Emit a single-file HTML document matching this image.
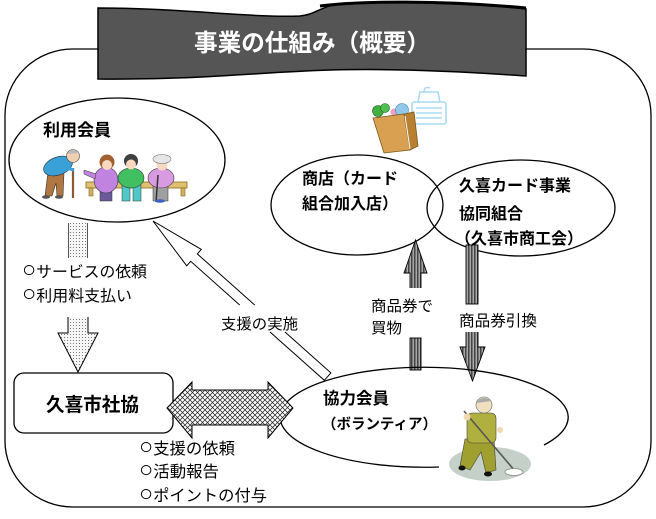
<!DOCTYPE html>
<html>
<head>
<meta charset="utf-8">
<style>
  html,body{margin:0;padding:0;background:#fff;}
  svg{display:block;}
  text{font-family:"Liberation Sans","Noto Sans CJK JP",sans-serif;fill:#000;}
  .b{font-weight:bold;}
  .c{font-size:23px;}
</style>
</head>
<body>
<svg width="656" height="519" viewBox="0 0 656 519" xmlns="http://www.w3.org/2000/svg">
  <defs>
    <pattern id="xh" width="5" height="5" patternUnits="userSpaceOnUse">
      <rect width="5" height="5" fill="#fff"/>
      <path d="M0,0 L5,5 M5,0 L0,5" stroke="#222" stroke-width="0.75"/>
    </pattern>
    <pattern id="st" width="3" height="4" patternUnits="userSpaceOnUse">
      <rect width="3" height="4" fill="#a8a8a8"/>
      <rect width="1.5" height="4" fill="#444"/>
    </pattern>
    <pattern id="dt" width="3" height="3" patternUnits="userSpaceOnUse">
      <rect width="3" height="3" fill="#f6f6f6"/>
      <rect x="1" y="1" width="1" height="1" fill="#777"/>
    </pattern>
  </defs>

  <!-- outer rounded frame -->
  <rect x="5" y="49" width="646" height="458" rx="68" ry="66" fill="#fff" stroke="#000" stroke-width="1.3"/>

  <!-- title banner -->
  <path d="M98,8 C180,8 250,18 300,16 C315,15 322,5 345,3 C420,0 480,4 526,9 L526,76 C470,72 400,68 330,70 C260,72 200,80 98,79 Z" fill="#555" stroke="#000" stroke-width="1.5"/>
  <path d="M320,6 C360,1 440,0 526,8" fill="none" stroke="#000" stroke-width="3"/>
  <text x="194" y="51" class="b" font-size="24" textLength="236" lengthAdjust="spacingAndGlyphs" style="fill:#fff">事業の仕組み（概要）</text>

  <!-- 利用会員 ellipse -->
  <ellipse cx="117" cy="160" rx="108" ry="62" fill="none" stroke="#000" stroke-width="1.3"/>
  <text x="43" y="136" class="b" font-size="17" textLength="68" lengthAdjust="spacingAndGlyphs">利用会員</text>

  <!-- people -->
  <g>
    <rect x="86" y="182" width="101" height="6" fill="#e0c070" stroke="#8a6a20" stroke-width="0.8"/>
    <rect x="89" y="188" width="4" height="8" fill="#d0b060" stroke="#8a6a20" stroke-width="0.6"/>
    <rect x="181" y="188" width="4" height="8" fill="#d0b060" stroke="#8a6a20" stroke-width="0.6"/>
    <polygon points="48,172 64,172 63,196 57,196 56,183 52,196 45,196" fill="#b07840" stroke="#333" stroke-width="0.6"/>
    <ellipse cx="58" cy="166" rx="15" ry="9" transform="rotate(-20 58 166)" fill="#3aa0d8" stroke="#333" stroke-width="0.6"/>
    <circle cx="73" cy="156" r="6.5" fill="#f0d0b0" stroke="#444" stroke-width="0.6"/>
    <path d="M67,154 Q73,146 79,153" fill="#bbb"/>
    <line x1="73" y1="168" x2="73" y2="198" stroke="#8a5a30" stroke-width="2.2"/>
    <line x1="66" y1="168" x2="74" y2="170" stroke="#3aa0d8" stroke-width="3"/>
    <ellipse cx="46" cy="197" rx="4" ry="1.8" fill="#555"/>
    <ellipse cx="59" cy="197" rx="4" ry="1.8" fill="#555"/>
    <rect x="100" y="190" width="12" height="11" fill="#6a5a9a" stroke="#333" stroke-width="0.5"/>
    <ellipse cx="106" cy="180" rx="12" ry="13" fill="#c084e0" stroke="#333" stroke-width="0.6"/>
    <polygon points="96,174 84,170 84,174 95,179" fill="#c084e0" stroke="#333" stroke-width="0.5"/>
    <circle cx="107" cy="162" r="7.5" fill="#a06030"/>
    <circle cx="107" cy="165" r="5" fill="#f8d8c0"/>
    <rect x="122" y="185" width="8" height="16" fill="#50c8c8" stroke="#333" stroke-width="0.5"/>
    <rect x="133" y="185" width="8" height="16" fill="#50c8c8" stroke="#333" stroke-width="0.5"/>
    <ellipse cx="131" cy="178" rx="13" ry="10" fill="#40c060" stroke="#333" stroke-width="0.6"/>
    <circle cx="131" cy="161" r="7" fill="#404040"/>
    <circle cx="131" cy="164.5" r="5" fill="#f8d8c0"/>
    <rect x="153" y="185" width="15" height="16" fill="#a0a0a0" stroke="#333" stroke-width="0.5"/>
    <ellipse cx="161" cy="178" rx="13" ry="10" fill="#d89ae0" stroke="#333" stroke-width="0.6"/>
    <circle cx="162" cy="165" r="5.5" fill="#f8d8c0"/>
    <ellipse cx="162" cy="159" rx="9" ry="4.5" fill="#e6e6e6" stroke="#777" stroke-width="0.6"/>
    <line x1="158" y1="175" x2="156" y2="202" stroke="#333" stroke-width="1.5"/>
    <ellipse cx="160" cy="201" rx="5" ry="1.8" fill="#4060c0"/>
  </g>

  <!-- dotted arrow -->
  <rect x="68" y="223" width="20" height="35" fill="url(#dt)"/>
  <line x1="68.5" y1="223" x2="68.5" y2="258" stroke="#555" stroke-width="1"/>
  <line x1="87.5" y1="223" x2="87.5" y2="258" stroke="#555" stroke-width="1"/>
  <polygon points="68,317 88,317 88,333 98,333 78,372 58,333 68,333" fill="url(#dt)"/>
  <polyline points="68,317 68,333 58,333 78,372 98,333 88,333 88,317" fill="none" stroke="#000" stroke-width="1"/>
  <text x="22" y="277" font-size="15.5" textLength="125" lengthAdjust="spacingAndGlyphs"><tspan class="c">○</tspan>サービスの依頼</text>
  <text x="22" y="301" font-size="15.5" textLength="110" lengthAdjust="spacingAndGlyphs"><tspan class="c">○</tspan>利用料支払い</text>

  <!-- white hollow arrow -->
  <polyline points="239.7,305 190.7,261.3 186.7,265.8 153,221 201.3,249.4 197.3,253.9 254.7,305" fill="#fff" stroke="#000" stroke-width="1"/>
  <polyline points="270,332 324.3,380.3 330.9,372.9 285,332" fill="#fff" stroke="#000" stroke-width="1"/>
  <text x="221" y="329" font-size="15" textLength="77" lengthAdjust="spacingAndGlyphs">支援の実施</text>

  <!-- shopping bag & register -->
  <g>
    <g fill="none" stroke="#a8dcf0" stroke-width="1.6">
      <rect x="412" y="102" width="34" height="22" rx="2"/>
      <path d="M418,102 L420,92 L438,92 L440,102"/>
      <path d="M424,92 Q424,86 430,88"/>
      <line x1="416" y1="108" x2="442" y2="108"/>
      <line x1="416" y1="113" x2="442" y2="113"/>
      <line x1="416" y1="118" x2="442" y2="118"/>
    </g>
    <circle cx="378" cy="111" r="5.5" fill="#40b040" stroke="#206020" stroke-width="0.6"/>
    <circle cx="385" cy="108" r="4.5" fill="#50c050" stroke="#206020" stroke-width="0.6"/>
    <circle cx="394" cy="112" r="3.5" fill="#f0a0c0"/>
    <circle cx="402" cy="110" r="6.5" fill="#90c8ec" stroke="#5080a0" stroke-width="0.6"/>
    <polygon points="373,118 404,114 410,150 384,153" fill="#d8a050" stroke="#7a5a20" stroke-width="0.8"/>
    <polygon points="404,114 414,112 418,146 410,150" fill="#b88030" stroke="#7a5a20" stroke-width="0.8"/>
    <line x1="405" y1="116" x2="410" y2="149" stroke="#fff" stroke-width="1"/>
  </g>

  <!-- 商店 / 久喜カード ellipses -->
  <ellipse cx="357" cy="205" rx="86" ry="50" fill="none" stroke="#000" stroke-width="1.3"/>
  <ellipse cx="521" cy="208" rx="94" ry="48" fill="none" stroke="#000" stroke-width="1.3"/>
  <text x="302" y="184" class="b" font-size="16" textLength="96" lengthAdjust="spacingAndGlyphs">商店（カード</text>
  <text x="302" y="209" class="b" font-size="16" textLength="96" lengthAdjust="spacingAndGlyphs">組合加入店）</text>
  <text x="459" y="191" class="b" font-size="16" textLength="112" lengthAdjust="spacingAndGlyphs">久喜カード事業</text>
  <text x="459" y="219" class="b" font-size="16" textLength="64" lengthAdjust="spacingAndGlyphs">協同組合</text>
  <text x="455" y="244" class="b" font-size="16" textLength="128" lengthAdjust="spacingAndGlyphs">（久喜市商工会）</text>

  <!-- up gray arrow -->
  <polygon points="415.5,240 427,273 421,273 421,288 410,288 410,273 404,273" fill="url(#st)"/>
  <polyline points="410,288 410,273 404,273 415.5,240 427,273 421,273 421,288" fill="none" stroke="#000" stroke-width="0.9"/>
  <rect x="410" y="338" width="11" height="32" fill="url(#st)" stroke="#000" stroke-width="0.9"/>
  <text x="371" y="311" font-size="15" textLength="62" lengthAdjust="spacingAndGlyphs">商品券で</text>
  <text x="371" y="333" font-size="15" textLength="31" lengthAdjust="spacingAndGlyphs">買物</text>

  <!-- down gray arrow -->
  <rect x="466" y="245" width="12" height="59" fill="url(#st)" stroke="#000" stroke-width="0.9"/>
  <polygon points="466,332 478,332 478,347 485,347 472.5,381 460,347 466,347" fill="url(#st)"/>
  <polyline points="466,332 466,347 460,347 472.5,381 485,347 478,347 478,332" fill="none" stroke="#000" stroke-width="0.9"/>
  <text x="459" y="326" font-size="15.5" textLength="78" lengthAdjust="spacingAndGlyphs">商品券引換</text>

  <!-- 協力会員 ellipse (open arc) -->
  <path d="M544,445 A144,50 0 1 0 439,467" fill="none" stroke="#000" stroke-width="1.3"/>
  <text x="323" y="404" class="b" font-size="16.5" textLength="66" lengthAdjust="spacingAndGlyphs">協力会員</text>
  <text x="322" y="429" class="b" font-size="14.5" textLength="115" lengthAdjust="spacingAndGlyphs">（ボランティア）</text>

  <!-- cleaner figure -->
  <g>
    <ellipse cx="490" cy="464" rx="41" ry="17" fill="#c4d0c8"/>
    <polygon points="465,439 494,439 496,470 486,473 481,452 470,470 460,466" fill="#a0a030" stroke="#444" stroke-width="0.6"/>
    <rect x="467" y="413" width="29" height="30" rx="5" fill="#b0b040" stroke="#444" stroke-width="0.6"/>
    <line x1="464" y1="411" x2="515" y2="471" stroke="#555" stroke-width="1.6"/>
    <ellipse cx="514" cy="472" rx="9" ry="3.5" fill="#fff" stroke="#888" stroke-width="0.8"/>
    <circle cx="467" cy="417" r="3.5" fill="#f0d8b0"/>
    <circle cx="500" cy="430" r="3" fill="#f0d8b0"/>
    <circle cx="484" cy="405" r="8" fill="#f0e0c0" stroke="#666" stroke-width="0.6"/>
    <path d="M476,403 Q482,394 492,401" fill="#aaa"/>
    <ellipse cx="462" cy="468" rx="3.5" ry="2.5" fill="#111"/>
    <ellipse cx="488" cy="474" rx="4" ry="2.5" fill="#111"/>
  </g>

  <!-- 久喜市社協 box -->
  <rect x="14" y="373" width="159" height="60" rx="10" ry="10" fill="#fff" stroke="#000" stroke-width="1.3"/>
  <text x="46" y="411" class="b" font-size="19" textLength="93" lengthAdjust="spacingAndGlyphs">久喜市社協</text>

  <!-- cross-hatched double arrow -->
  <polygon points="167,408 192,382 192,390 268,390 268,382 293,408 268,438 268,425 192,425 192,438" fill="url(#xh)" stroke="#000" stroke-width="1"/>

  <text x="139" y="454" font-size="16" textLength="96" lengthAdjust="spacingAndGlyphs"><tspan class="c">○</tspan>支援の依頼</text>
  <text x="139" y="477" font-size="16" textLength="80" lengthAdjust="spacingAndGlyphs"><tspan class="c">○</tspan>活動報告</text>
  <text x="139" y="501" font-size="16" textLength="128" lengthAdjust="spacingAndGlyphs"><tspan class="c">○</tspan>ポイントの付与</text>
</svg>
</body>
</html>
